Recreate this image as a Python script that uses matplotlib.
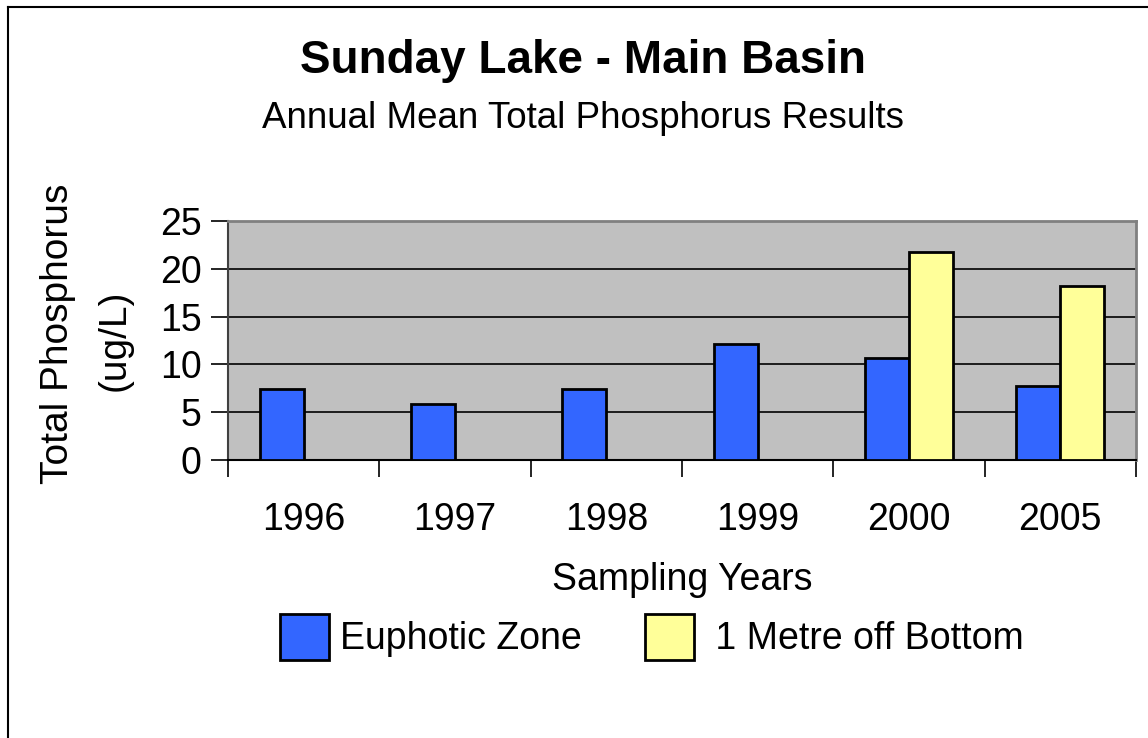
import matplotlib
matplotlib.use("Agg")
import matplotlib.pyplot as plt
from matplotlib.lines import Line2D
import numpy as np

plt.rcParams['font.family'] = ['Liberation Sans', 'DejaVu Sans']

# data
years = ['1996', '1997', '1998', '1999', '2000', '2005']
euphotic = [7.4, 5.9, 7.4, 12.1, 10.7, 7.7]
bottom = [0, 0, 0, 0, 21.8, 18.2]

fig = plt.figure(figsize=(11.48, 7.38), dpi=100)
ax = fig.add_axes([228 / 1148, 1 - 460 / 738, 908 / 1148, 239 / 738])
ax.set_facecolor('#C0C0C0')

x = np.arange(len(years))
w = 0.29
ax.bar(x - w / 2, euphotic, w, color='#3366FF', edgecolor='black', linewidth=2,
       label='Euphotic Zone', zorder=3)
yb = [v if v > 0 else np.nan for v in bottom]
ax.bar(x + w / 2, yb, w, color='#FFFF99', edgecolor='black', linewidth=2,
       label=' 1 Metre off Bottom', zorder=3)

ax.set_xlim(-0.5, len(years) - 0.5)
ax.set_ylim(0, 25)
ax.set_yticks([0, 5, 10, 15, 20, 25])
ax.yaxis.grid(True, color='black', linewidth=1.2, zorder=1)
ax.set_axisbelow(True)

ax.set_xticks(x)
ax.set_xticklabels(years)
ax.set_xticks(np.arange(len(years) + 1) - 0.5, minor=True)
ax.tick_params(axis='x', which='major', length=0, pad=30, labelsize=27)
ax.tick_params(axis='x', which='minor', length=12, width=1.2, direction='out')
ax.tick_params(axis='y', length=12, width=1.2, pad=7, labelsize=27)

for s in ['top', 'right']:
    ax.spines[s].set_color('#808080')
    ax.spines[s].set_linewidth(2)
ax.spines['left'].set_color('#404040')
ax.spines['left'].set_linewidth(1.5)
ax.spines['bottom'].set_color('black')
ax.spines['bottom'].set_linewidth(1.5)

# titles
fig.text(583 / 1148, 1 - 61 / 738, 'Sunday Lake - Main Basin', ha='center', va='center',
         fontsize=33, fontweight='bold')
fig.text(583 / 1148, 1 - 118 / 738, 'Annual Mean Total Phosphorus Results', ha='center',
         va='center', fontsize=26.5)

# axis labels
fig.text(682 / 1148, 1 - 580 / 738, 'Sampling Years', ha='center', va='center', fontsize=27)
fig.text(58 / 1148, 1 - 334 / 738, 'Total Phosphorus', rotation=90, ha='center',
         va='center', fontsize=28)
fig.text(115 / 1148, 1 - 340 / 738, '(ug/L)', rotation=90, ha='center',
         va='center', fontsize=28)

fig.legend(loc='center', bbox_to_anchor=(652 / 1148, 1 - 637 / 738), ncol=2,
           frameon=False, fontsize=27, handlelength=1.3, handleheight=1.55,
           handletextpad=0.3, columnspacing=1.7)

# outer border
fig.add_artist(Line2D([8 / 1148, 8 / 1148], [0, 1 - 7 / 738], transform=fig.transFigure,
                      color='black', linewidth=1.5))
fig.add_artist(Line2D([8 / 1148, 1], [1 - 7 / 738, 1 - 7 / 738], transform=fig.transFigure,
                      color='black', linewidth=1.5))

fig.savefig('out.png', dpi=100)
